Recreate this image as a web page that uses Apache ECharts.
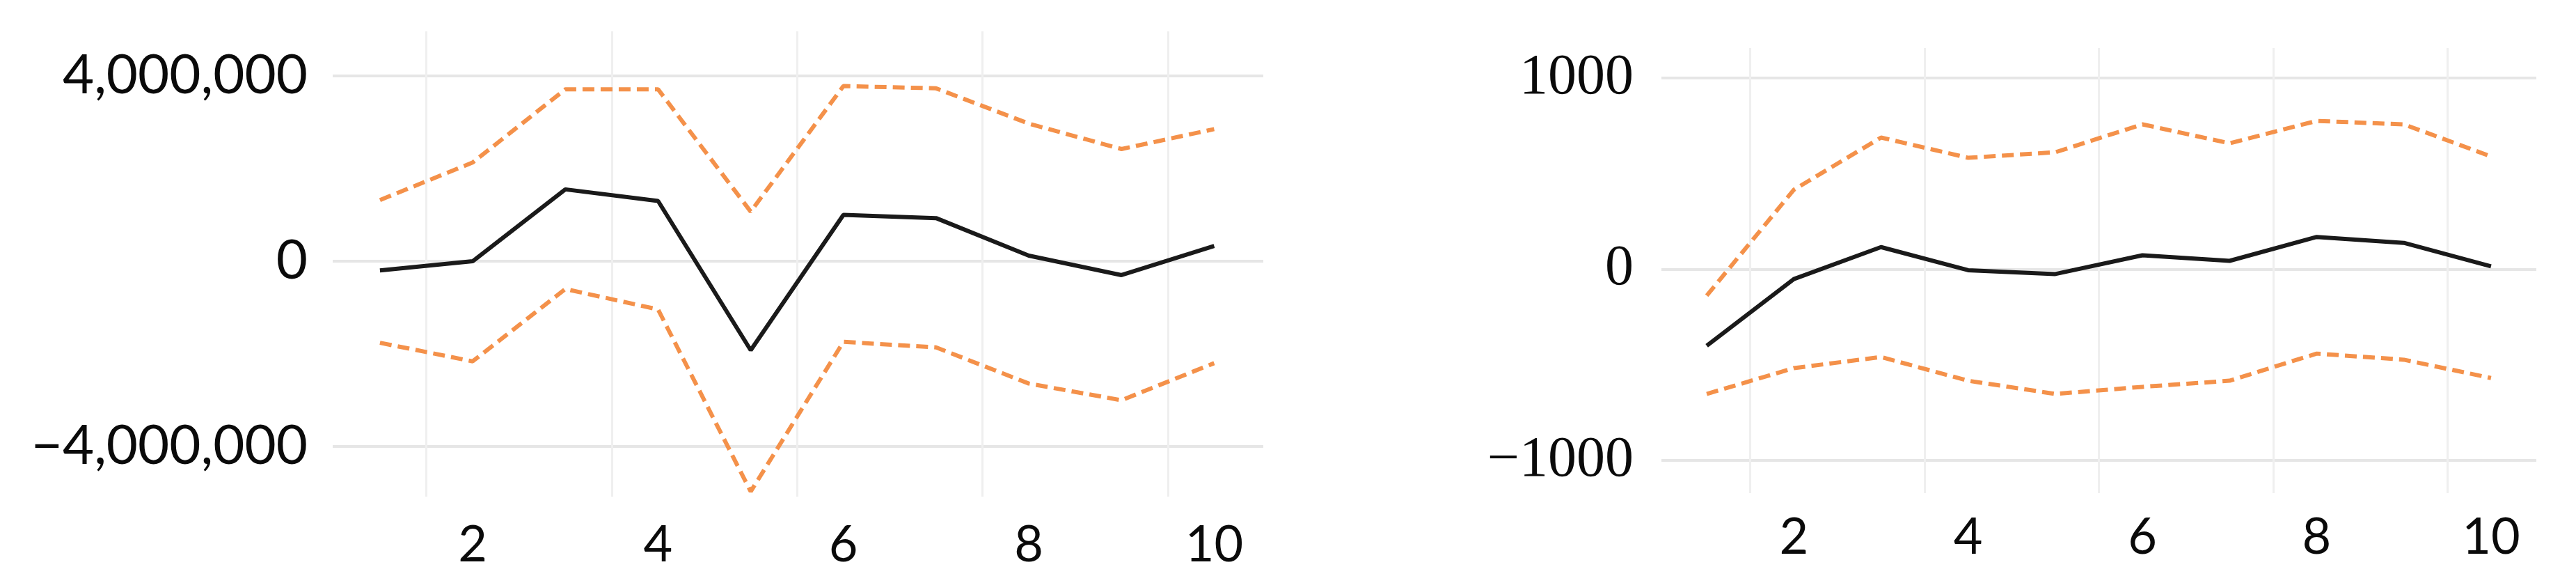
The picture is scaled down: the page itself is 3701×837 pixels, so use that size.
<!DOCTYPE html>
<html>
<head>
<meta charset="utf-8">
<script src="https://cdn.jsdelivr.net/npm/echarts@6/dist/echarts.min.js"></script>
<style>
  html, body { margin: 0; padding: 0; background: #fff; }
  #chart { width: 3701px; height: 837px; }
</style>
</head>
<body>
<div id="chart"></div>
<script>
// periods on the x axis
const periods = [1, 2, 3, 4, 5, 6, 7, 8, 9, 10];
const xLabelTicks = [2, 4, 6, 8, 10];
const xGridTicks = [1.5, 3.5, 5.5, 7.5, 9.5];

// left panel
const leftMid   = [-0.2e6, 0.0e6, 1.55e6, 1.3e6, -1.92e6, 1.0e6, 0.93e6, 0.12e6, -0.3e6, 0.33e6];
const leftUpper = [1.32e6, 2.13e6, 3.71e6, 3.71e6, 1.07e6, 3.78e6, 3.73e6, 2.97e6, 2.42e6, 2.85e6];
const leftLower = [-1.76e6, -2.16e6, -0.6e6, -1.04e6, -4.97e6, -1.74e6, -1.86e6, -2.64e6, -3.0e6, -2.2e6];
const leftYTicks = [-4000000, 0, 4000000];

// right panel
const rightMid   = [-400, -51, 116, -5, -25, 73, 44, 169, 138, 15];
const rightUpper = [-138, 416, 689, 583, 612, 758, 659, 776, 758, 590];
const rightLower = [-652, -517, -459, -583, -652, -615, -583, -441, -473, -569];
const rightYTicks = [-1000, 0, 1000];

const orange = '#f4914a';
const pairs = vals => periods.map((p, i) => [p, vals[i]]);
const minus = s => s.replace('-', '\u2212');

function xAxis(gridIndex, min, max, margin) {
  return {
    type: 'value', gridIndex, min, max,
    axisLine: { show: false },
    axisTick: { show: false, customValues: xGridTicks },
    axisLabel: {
      customValues: xLabelTicks, margin,
      fontFamily: 'Lato', fontSize: 72, color: '#0a0a0a'
    },
    splitLine: { show: true, lineStyle: { color: '#efefef', width: 3 } }
  };
}

function yAxis(gridIndex, min, max, ticks, fmt, font, size, margin) {
  return {
    type: 'value', gridIndex, min, max,
    axisLine: { show: false },
    axisTick: { show: false, customValues: ticks },
    axisLabel: {
      customValues: ticks, margin, formatter: fmt,
      fontFamily: font, fontSize: size, color: '#0a0a0a'
    },
    splitLine: { show: true, lineStyle: { color: '#e6e6e6', width: 4 } }
  };
}

function line(idx, vals, color, dashed) {
  return {
    type: 'line', xAxisIndex: idx, yAxisIndex: idx,
    data: pairs(vals), symbol: 'none', silent: true,
    lineStyle: dashed
      ? { color, width: 6, type: [17, 9] }
      : { color, width: 6 }
  };
}

const chart = echarts.init(document.getElementById('chart'));
chart.setOption({
  animation: false,
  grid: [
    { left: 478, top: 45, width: 1337, height: 668 },
    { left: 2387, top: 69, width: 1257, height: 639 }
  ],
  xAxis: [
    xAxis(0, 0.49, 10.53, 34),
    xAxis(1, 0.48, 10.52, 28)
  ],
  yAxis: [
    yAxis(0, -5.08e6, 4.96e6, leftYTicks,
      v => minus(Math.round(v).toLocaleString('en-US')), 'Lato', 78, 36),
    yAxis(1, -1171, 1157, rightYTicks,
      v => minus(String(v)), 'Liberation Serif', 82, 40)
  ],
  series: [
    line(0, leftUpper, orange, true),
    line(0, leftLower, orange, true),
    line(0, leftMid, '#1a1a1a', false),
    line(1, rightUpper, orange, true),
    line(1, rightLower, orange, true),
    line(1, rightMid, '#1a1a1a', false)
  ]
});
</script>
</body>
</html>
